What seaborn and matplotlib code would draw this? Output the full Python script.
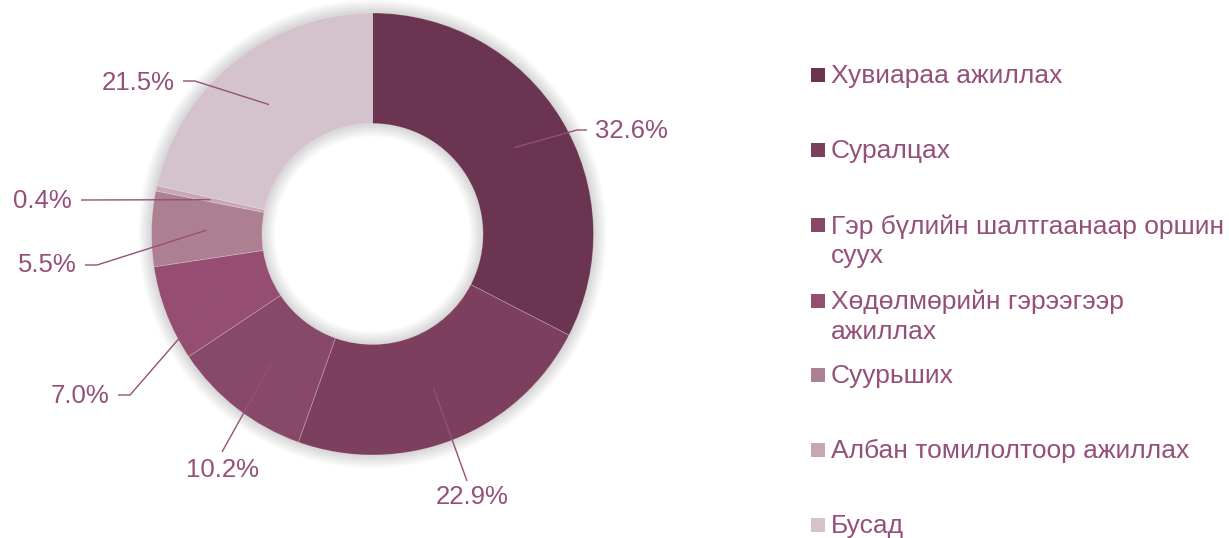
"""Donut chart: reasons for residence (share, %)."""

import matplotlib.pyplot as plt
import matplotlib.patches as mpatches
import seaborn as sns
import numpy as np

categories = [
    'Хувиараа ажиллах',
    'Суралцах',
    'Гэр бүлийн шалтгаанаар оршин\nсуух',
    'Хөдөлмөрийн гэрээгээр\nажиллах',
    'Суурьших',
    'Албан томилолтоор ажиллах',
    'Бусад',
]
shares = [32.6, 22.9, 10.2, 7.0, 5.5, 0.4, 21.5]
label_texts = ['32.6%', '22.9%', '10.2%', '7.0%', '5.5%', '0.4%', '21.5%']
colors = ['#6B3551', '#7D3F5E', '#884868', '#954E72', '#AD7F93', '#C7A7B5', '#D4C3CC']
text_color = '#94507A'

# label layout in pixels: (elbow x, elbow y, end x, end y, text x, text y, ha)
label_layout = [
    (577, 130, 587, 130, 595, 131, 'left'),
    (467, 481, 467, 481, 472, 497, 'center'),
    (222, 452, 222, 452, 222, 470, 'center'),
    (130, 395, 118, 395, 109, 396, 'right'),
    (97, 265, 85, 265, 77, 265, 'right'),
    (81, 200, 81, 200, 72, 201, 'right'),
    (195, 81, 183, 81, 175, 83, 'right'),
]

W, H = 1229, 538
CX, CY, R = 372.5, 234.0, 221.0

sns.set_theme(style='white')
plt.rcParams['font.family'] = ['Liberation Sans', 'DejaVu Sans']

fig = plt.figure(figsize=(W / 100, H / 100), dpi=100)
ax = fig.add_axes([0, 0, 745 / W, 1])


def px(x, y):
    return (x - CX) / R, (CY - y) / R


# soft shadow around the ring (outside and inside the hole)
for k in range(10):
    ax.add_patch(mpatches.Wedge((0, 0), 1.0 + 0.006 * (k + 1), 0, 360,
                                width=0.5 + 0.012 * (k + 1),
                                facecolor='#000000', alpha=0.014, lw=0))

wedges, _ = ax.pie(
    shares, colors=colors, startangle=90, counterclock=False, radius=1.0,
    wedgeprops=dict(width=0.5, edgecolor=(1, 1, 1, 0.25), linewidth=0.6),
)

# leader lines and labels
total = sum(shares)
cum = 0.0
for val, txt, lay in zip(shares, label_texts, label_layout):
    mid = cum + val / 2
    cum += val
    ang = np.deg2rad(90 - 360 * mid / total)
    ax0, ay0 = 0.75 * np.cos(ang), 0.75 * np.sin(ang)
    ex, ey = px(lay[0], lay[1])
    fx, fy = px(lay[2], lay[3])
    ax.plot([ax0, ex, fx], [ay0, ey, fy], color=text_color, lw=1.0,
            solid_capstyle='butt')
    tx, ty = px(lay[4], lay[5])
    ax.text(tx, ty, txt, ha=lay[6], va='center', fontsize=18.5, color=text_color)

ax.set_aspect('auto')
ax.set_xlim(-CX / R, (745 - CX) / R)
ax.set_ylim(-(H - CY) / R, CY / R)
ax.axis('off')

# legend drawn on the right side
row_y = [75, 150, 225, 301, 375, 450, 525]
for cat, col, y in zip(categories, colors, row_y):
    fig.patches.append(mpatches.Rectangle(
        (811 / W, 1 - (y + 7) / H), 14 / W, 14 / H,
        transform=fig.transFigure, facecolor=col, edgecolor='none'))
    fig.text(831 / W, 1 - (y - 11) / H, cat, ha='left', va='top',
             fontsize=19, color=text_color, linespacing=1.3)

fig.savefig('out.png', dpi=100)
